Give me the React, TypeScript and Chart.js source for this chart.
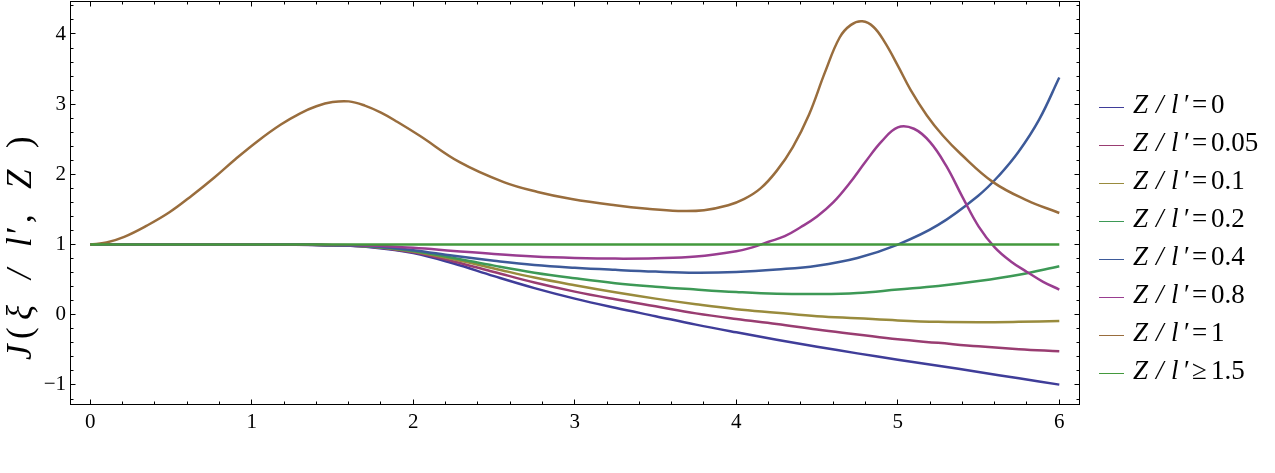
import React, { useEffect, useRef } from 'react';
import { Chart, registerables } from 'chart.js';

Chart.register(...registerables);

// ---- data ----
const seriesValues = ['0', '0.05', '0.1', '0.2', '0.4', '0.8', '1', '1.5'];
const seriesRelations = ['=', '=', '=', '=', '=', '=', '=', '≥'];
const seriesColors = [
  'rgb(63,61,153)',
  'rgb(153,61,113)',
  'rgb(153,139,61)',
  'rgb(61,153,86)',
  'rgb(61,90,153)',
  'rgb(153,61,144)',
  'rgb(153,109,61)',
  'rgb(67,153,61)',
];

const xTicks = [0, 1, 2, 3, 4, 5, 6];
const yTicks = [-1, 0, 1, 2, 3, 4];

const xCommon = [0, 0.5, 1, 1.25, 1.5, 1.75, 2, 2.25, 2.5, 2.75, 3, 3.25, 3.5, 3.75, 4, 4.25, 4.5, 4.75, 5, 5.25, 5.5, 5.75, 6];
const yZ0 = [1, 1, 1, 1, 0.99, 0.96, 0.88, 0.73, 0.55, 0.38, 0.23, 0.1, -0.02, -0.14, -0.25, -0.355, -0.455, -0.55, -0.64, -0.725, -0.815, -0.905, -0.995];
const yZ005 = [1, 1, 1, 1, 0.99, 0.965, 0.89, 0.76, 0.61, 0.46, 0.33, 0.22, 0.12, 0.02, -0.06, -0.13, -0.21, -0.28, -0.35, -0.4, -0.45, -0.49, -0.52];
const yZ01 = [1, 1, 1, 1, 0.99, 0.97, 0.9, 0.79, 0.66, 0.53, 0.42, 0.32, 0.23, 0.15, 0.08, 0.03, -0.02, -0.05, -0.08, -0.1, -0.105, -0.1, -0.09];
const yZ02 = [1, 1, 1, 1, 0.99, 0.97, 0.91, 0.81, 0.7, 0.6, 0.52, 0.45, 0.4, 0.36, 0.325, 0.3, 0.295, 0.31, 0.36, 0.41, 0.48, 0.57, 0.69];

const xZ04 = [0, 0.5, 1, 1.25, 1.5, 1.75, 2, 2.25, 2.5, 2.75, 3, 3.25, 3.5, 3.75, 4, 4.25, 4.5, 4.75, 5, 5.25, 5.5, 5.625, 5.75, 5.875, 6];
const yZ04 = [1, 1, 1, 1, 0.99, 0.975, 0.92, 0.84, 0.77, 0.71, 0.67, 0.64, 0.615, 0.6, 0.61, 0.645, 0.7, 0.81, 1.0, 1.28, 1.7, 1.98, 2.33, 2.78, 3.38];

const xZ08 = [0, 0.5, 1, 1.5, 1.75, 2, 2.25, 2.5, 2.75, 3, 3.25, 3.5, 3.75, 4, 4.1, 4.2, 4.3, 4.4, 4.5, 4.6, 4.7, 4.8, 4.9, 5.0, 5.1, 5.2, 5.3, 5.4, 5.5, 5.6, 5.7, 5.8, 5.9, 6];
const yZ08 = [1, 1, 1, 0.995, 0.985, 0.955, 0.91, 0.865, 0.83, 0.81, 0.8, 0.805, 0.83, 0.905, 0.96, 1.04, 1.12, 1.25, 1.4, 1.6, 1.87, 2.18, 2.47, 2.67, 2.65, 2.46, 2.12, 1.68, 1.26, 0.96, 0.76, 0.61, 0.47, 0.36];

const xZ1 = [0, 0.1, 0.21, 0.35, 0.49, 0.63, 0.77, 0.9, 1.04, 1.18, 1.3, 1.4, 1.5, 1.6, 1.7, 1.8, 1.9, 2.04, 2.29, 2.56, 2.77, 2.98, 3.25, 3.45, 3.64, 3.8, 3.95, 4.05, 4.15, 4.25, 4.35, 4.45, 4.55, 4.64, 4.71, 4.78, 4.85, 4.92, 5.0, 5.08, 5.18, 5.28, 5.39, 5.59, 5.8, 6];
const yZ1 = [1, 1.03, 1.11, 1.27, 1.46, 1.7, 1.96, 2.22, 2.48, 2.71, 2.87, 2.97, 3.03, 3.04, 2.98, 2.88, 2.75, 2.55, 2.17, 1.89, 1.75, 1.65, 1.56, 1.51, 1.48, 1.49, 1.56, 1.65, 1.8, 2.05, 2.39, 2.85, 3.46, 3.95, 4.13, 4.18, 4.1, 3.88, 3.55, 3.2, 2.84, 2.55, 2.29, 1.89, 1.63, 1.45];

const xZ15 = [0, 6];
const yZ15 = [1, 1];

const seriesX = [xCommon, xCommon, xCommon, xCommon, xZ04, xZ08, xZ1, xZ15];
const seriesY = [yZ0, yZ005, yZ01, yZ02, yZ04, yZ08, yZ1, yZ15];

const SERIF = "'Liberation Serif', 'Times New Roman', serif";

const fmt = (v: number) => (v < 0 ? '\u2212' + Math.abs(v) : String(v));

const framePlugin = {
  id: 'mmaFrame',
  afterDraw(chart: any) {
    const { ctx, chartArea } = chart;
    const { left, right, top, bottom } = chartArea;
    const xs = chart.scales.x;
    const ys = chart.scales.y;
    ctx.save();
    ctx.strokeStyle = '#000';
    ctx.lineWidth = 1;
    // frame
    ctx.strokeRect(left - 0.5, top + 0.5, right - left + 1, bottom - top);
    // ticks
    const majLen = 4.5;
    const minLen = 2.5;
    ctx.beginPath();
    for (let k = Math.ceil(xs.min * 5); k <= Math.floor(xs.max * 5); k++) {
      const v = k / 5;
      const isMaj = Math.abs(v - Math.round(v)) < 1e-9;
      const len = isMaj ? majLen : minLen;
      const px = Math.floor(xs.getPixelForValue(v)) + 0.5;
      ctx.moveTo(px, bottom);
      ctx.lineTo(px, bottom - len);
      ctx.moveTo(px, top + 1);
      ctx.lineTo(px, top + 1 + len);
    }
    for (let k = Math.ceil(ys.min * 5); k <= Math.floor(ys.max * 5); k++) {
      const v = k / 5;
      const isMaj = Math.abs(v - Math.round(v)) < 1e-9;
      const len = isMaj ? majLen : minLen;
      const py = Math.floor(ys.getPixelForValue(v)) + 0.5;
      ctx.moveTo(left, py);
      ctx.lineTo(left + len, py);
      ctx.moveTo(right, py);
      ctx.lineTo(right - len, py);
    }
    ctx.stroke();

    // y-axis title (rotated, pieces)
    ctx.fillStyle = '#000';
    ctx.textBaseline = 'alphabetic';
    ctx.textAlign = 'left';
    ctx.save();
    ctx.translate(31, 360);
    ctx.rotate(-Math.PI / 2);
    const titleFont = 35;
    const pieces: [string, boolean, number][] = [
      ['J', true, 0],
      ['(', false, 21],
      ['ξ', true, 40],
      ['/', true, 81],
      ['l', true, 113],
      ['′', false, 126],
      [',', false, 137],
      ['Z', true, 171],
      [')', false, 212],
    ];
    for (const [t, it, off] of pieces) {
      ctx.font = `${it ? 'italic ' : ''}${titleFont}px ${SERIF}`;
      ctx.fillText(t, off, 0);
    }
    ctx.restore();

    // legend
    const lx0 = 1099;
    const lx1 = 1124;
    const tx = 1133;
    const fs = 27;
    for (let i = 0; i < seriesValues.length; i++) {
      const ly = 106.7 + i * 38.1;
      ctx.save();
      ctx.strokeStyle = seriesColors[i];
      ctx.lineWidth = 1;
      ctx.beginPath();
      ctx.moveTo(lx0, Math.round(ly) + 0.5);
      ctx.lineTo(lx1, Math.round(ly) + 0.5);
      ctx.stroke();
      ctx.restore();
      const by = ly + 6;
      ctx.font = `italic ${fs}px ${SERIF}`;
      ctx.fillText('Z', tx, by);
      ctx.fillText('/', tx + 23, by);
      ctx.fillText('l', tx + 38, by);
      ctx.font = `${fs}px ${SERIF}`;
      ctx.fillText('′', tx + 51, by);
      ctx.fillText(seriesRelations[i], tx + 59, by);
      ctx.fillText(seriesValues[i], tx + 78, by);
    }
    ctx.restore();
  },
};

export default function App() {
  const ref = useRef<HTMLCanvasElement | null>(null);
  useEffect(() => {
    if (!ref.current) return;
    const datasets = seriesValues.map((v, i) => ({
      label: 'Z/l′' + seriesRelations[i] + v,
      data: seriesX[i].map((x, j) => ({ x, y: seriesY[i][j] })),
      borderColor: seriesColors[i],
      backgroundColor: seriesColors[i],
      borderWidth: 2.5,
      pointRadius: 0,
      fill: false,
      tension: 0.4,
      order: seriesValues.length - 1 - i,
    }));
    const chart = new Chart(ref.current, {
      type: 'line',
      data: { datasets },
      options: {
        animation: false,
        responsive: false,
        devicePixelRatio: 1,
        layout: { padding: { top: 1, right: 196, bottom: 0, left: 0 } },
        plugins: { legend: { display: false }, tooltip: { enabled: false } },
        scales: {
          x: {
            type: 'linear',
            min: -0.1195,
            max: 6.122,
            grid: { display: false, drawTicks: false },
            border: { display: false },
            ticks: {
              color: '#000',
              font: { family: SERIF, size: 21 },
              padding: 6,
              callback: (v: any) => fmt(Number(v)),
            },
            afterBuildTicks: (s: any) => {
              s.ticks = xTicks.map((v) => ({ value: v }));
            },
            afterFit: (s: any) => {
              s.height = 69;
              s.paddingLeft = 0;
              s.paddingRight = 0;
            },
          },
          y: {
            type: 'linear',
            min: -1.271,
            max: 4.47,
            grid: { display: false, drawTicks: false },
            border: { display: false },
            ticks: {
              color: '#000',
              font: { family: SERIF, size: 21 },
              padding: 5,
              callback: (v: any) => fmt(Number(v)),
            },
            afterBuildTicks: (s: any) => {
              s.ticks = yTicks.map((v) => ({ value: v }));
            },
            afterFit: (s: any) => {
              s.width = 71;
              s.paddingTop = 0;
              s.paddingBottom = 0;
            },
          },
        },
      },
      plugins: [framePlugin],
    });
    return () => chart.destroy();
  }, []);
  return (
    <div style={{ position: 'absolute', left: 0, top: 0, width: 1275, height: 473, background: '#fff' }}>
      <canvas ref={ref} width={1275} height={473} style={{ display: 'block' }} />
    </div>
  );
}
